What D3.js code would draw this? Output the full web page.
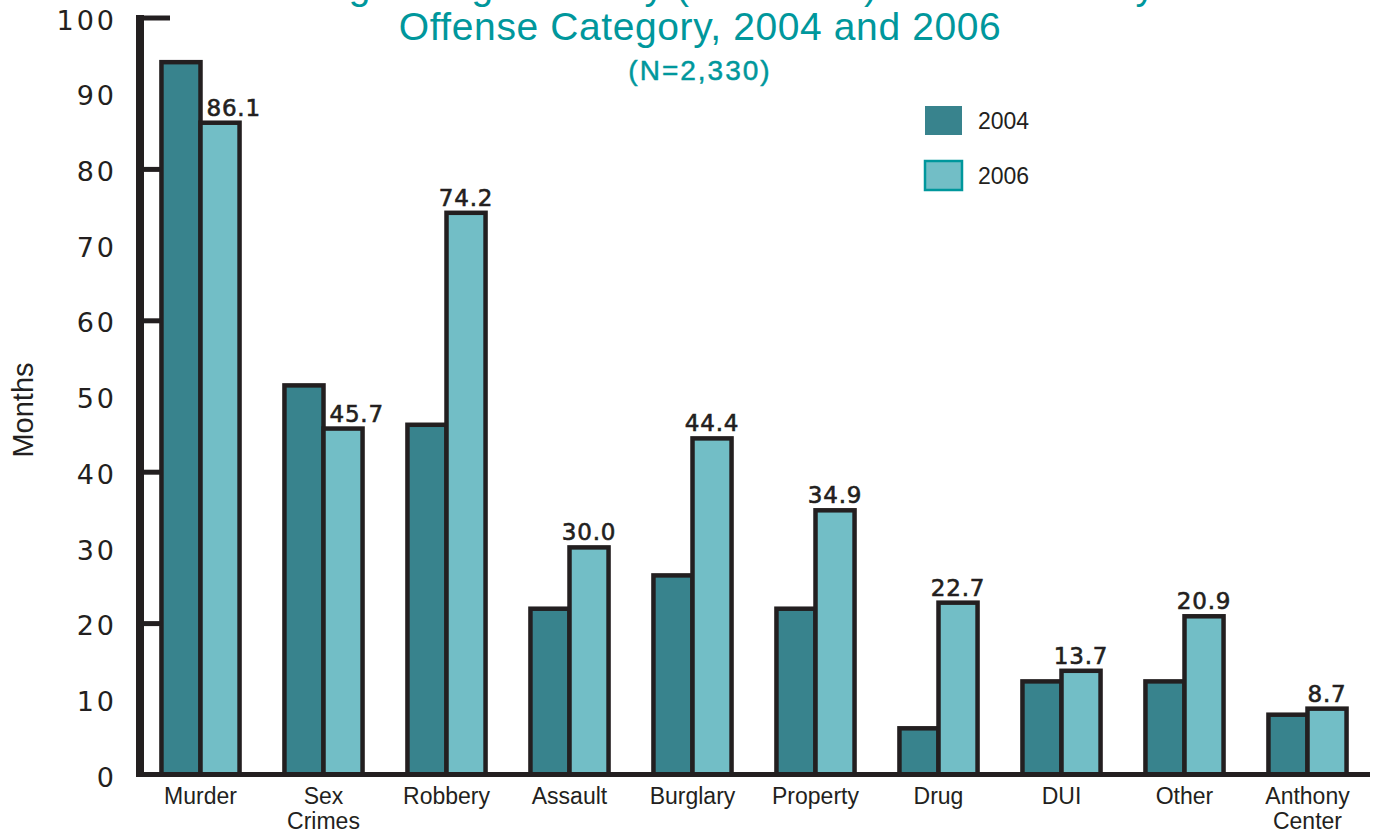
<!DOCTYPE html>
<html>
<head>
<meta charset="utf-8">
<script src="https://cdn.jsdelivr.net/npm/d3@7"></script>
<style>
  html, body { margin: 0; padding: 0; background: #ffffff; }
  svg { display: block; }
</style>
</head>
<body>
<svg id="chart" width="1373" height="834"></svg>
<script>
// Offense categories along the x axis
const categories = ["Murder", "Sex Crimes", "Robbery", "Assault", "Burglary",
                    "Property", "Drug", "DUI", "Other", "Anthony Center"];
// Series names
const years = ["2004", "2006"];
// Months, by category
const values2004 = [94.1, 51.4, 46.2, 21.9, 26.3, 21.9, 6.1, 12.3, 12.3, 7.9];
const values2006 = [86.1, 45.7, 74.2, 30.0, 44.4, 34.9, 22.7, 13.7, 20.9, 8.7];
// Value labels printed over the 2006 bars
const labels2006 = ["86.1", "45.7", "74.2", "30.0", "44.4", "34.9", "22.7", "13.7", "20.9", "8.7"];
// Y axis tick labels and tick marks
const yTickLabels = [0, 10, 20, 30, 40, 50, 60, 70, 80, 90, 100];
const yTickMarks = [20, 40, 60, 80, 100];
// Titles
const titleLines = ["Average Length of Stay (in Months) of Releases by",
                    "Offense Category, 2004 and 2006"];
const subtitle = "(N=2,330)";
const yLabel = "Months";

const seriesColors = { "2004": "#38838d", "2006": "#72bec6" };
const ink = "#231f20";
const teal = "#00979c";

const rows = categories.map((c, i) => ({
  category: c,
  values: [
    { year: "2004", value: values2004[i] },
    { year: "2006", value: values2006[i], label: labels2006[i], other: values2004[i] }
  ]
}));

const svg = d3.select("#chart");

const x0 = d3.scaleBand()
  .domain(categories)
  .range([139, 1369])
  .paddingInner(0.365)
  .paddingOuter(0.1825);

const x1 = d3.scaleBand()
  .domain(years)
  .range([0, x0.bandwidth()])
  .padding(0);

const y = d3.scaleLinear()
  .domain([0, 100])
  .range([774.5, 17.5]);

// Y axis: thick spine with short ticks to the right
const yAxis = svg.append("g")
  .attr("transform", "translate(140,0)")
  .call(d3.axisRight(y).tickValues(yTickMarks).tickSize(30).tickFormat(""));
yAxis.select(".domain").remove();
yAxis.selectAll(".tick line")
  .attr("stroke", ink)
  .attr("stroke-width", 5);
svg.append("line")
  .attr("x1", 140).attr("x2", 140)
  .attr("y1", y(100) - 2.5).attr("y2", y(0) + 2.5)
  .attr("stroke", ink).attr("stroke-width", 8);

// Y tick labels
svg.append("g")
  .selectAll("text")
  .data(yTickLabels)
  .join("text")
  .attr("x", 117)
  .attr("y", d => y(d))
  .attr("dy", "0.45em")
  .attr("text-anchor", "end")
  .attr("font-family", "DejaVu Sans, sans-serif")
  .attr("font-size", 27)
  .attr("letter-spacing", 3)
  .attr("fill", ink)
  .text(d => d);

// Bars
const groups = svg.append("g")
  .selectAll("g")
  .data(rows)
  .join("g")
  .attr("transform", d => `translate(${x0(d.category)},0)`);

groups.selectAll("rect")
  .data(d => d.values)
  .join("rect")
  .attr("x", d => x1(d.year))
  .attr("y", d => y(d.value))
  .attr("width", x1.bandwidth())
  .attr("height", d => y(0) - y(d.value))
  .attr("fill", d => seriesColors[d.year])
  .attr("stroke", ink)
  .attr("stroke-width", 4.5);

// Value labels above the 2006 bars; pushed right of a taller 2004 bar
groups.selectAll("text.value")
  .data(d => d.values.filter(v => v.label))
  .join("text")
  .attr("class", "value")
  .attr("x", d => d.other > d.value ? x1(d.year) + 6 : x1(d.year) + x1.bandwidth() / 2)
  .attr("y", d => y(d.value) - 7)
  .attr("text-anchor", d => d.other > d.value ? "start" : "middle")
  .attr("font-family", "DejaVu Sans, sans-serif")
  .attr("font-size", 23)
  .attr("letter-spacing", 0.8)
  .attr("fill", ink)
  .attr("stroke", ink)
  .attr("stroke-width", 0.6)
  .text(d => d.label);

// X axis baseline
svg.append("line")
  .attr("x1", 136).attr("x2", 1370)
  .attr("y1", y(0)).attr("y2", y(0))
  .attr("stroke", ink).attr("stroke-width", 5);

// Category labels (multi-word names wrap onto two lines)
const catLabels = svg.append("g")
  .selectAll("text")
  .data(categories)
  .join("text")
  .attr("x", d => x0(d) + x0.bandwidth() / 2)
  .attr("y", 804)
  .attr("text-anchor", "middle")
  .attr("font-family", "Liberation Sans, Arial, sans-serif")
  .attr("font-size", 23)
  .attr("fill", ink);
catLabels.selectAll("tspan")
  .data(d => d.split(" ").map((w, i) => ({ w, i, x: x0(d) + x0.bandwidth() / 2 })))
  .join("tspan")
  .attr("x", d => d.x)
  .attr("dy", d => d.i === 0 ? 0 : 25)
  .text(d => d.w);

// Y axis title
svg.append("text")
  .attr("transform", "translate(33,410) rotate(-90)")
  .attr("text-anchor", "middle")
  .attr("font-family", "Liberation Sans, Arial, sans-serif")
  .attr("font-size", 29)
  .attr("fill", ink)
  .text(yLabel);

// Title block (first line runs off the top edge)
svg.append("g")
  .selectAll("text")
  .data(titleLines)
  .join("text")
  .attr("x", 700)
  .attr("y", (d, i) => -1 + i * 41)
  .attr("text-anchor", "middle")
  .attr("font-family", "Liberation Sans, Arial, sans-serif")
  .attr("font-size", 39)
  .attr("letter-spacing", 0.6)
  .attr("fill", teal)
  .text(d => d);

svg.append("text")
  .attr("x", 700)
  .attr("y", 80)
  .attr("text-anchor", "middle")
  .attr("font-family", "Liberation Sans, Arial, sans-serif")
  .attr("font-size", 28)
  .attr("letter-spacing", 2)
  .attr("fill", teal)
  .attr("stroke", teal)
  .attr("stroke-width", 0.5)
  .text(subtitle);

// Legend
const legend = svg.append("g")
  .selectAll("g")
  .data(years)
  .join("g")
  .attr("transform", (d, i) => `translate(925,${106 + i * 55})`);
legend.append("rect")
  .attr("width", 37)
  .attr("height", 29)
  .attr("fill", d => seriesColors[d])
  .attr("stroke", d => d === "2006" ? teal : "none")
  .attr("stroke-width", 2.5);
legend.append("text")
  .attr("x", 53)
  .attr("y", 14.5)
  .attr("dy", "0.35em")
  .attr("font-family", "Liberation Sans, Arial, sans-serif")
  .attr("font-size", 23)
  .attr("fill", ink)
  .text(d => d);
</script>
</body>
</html>
